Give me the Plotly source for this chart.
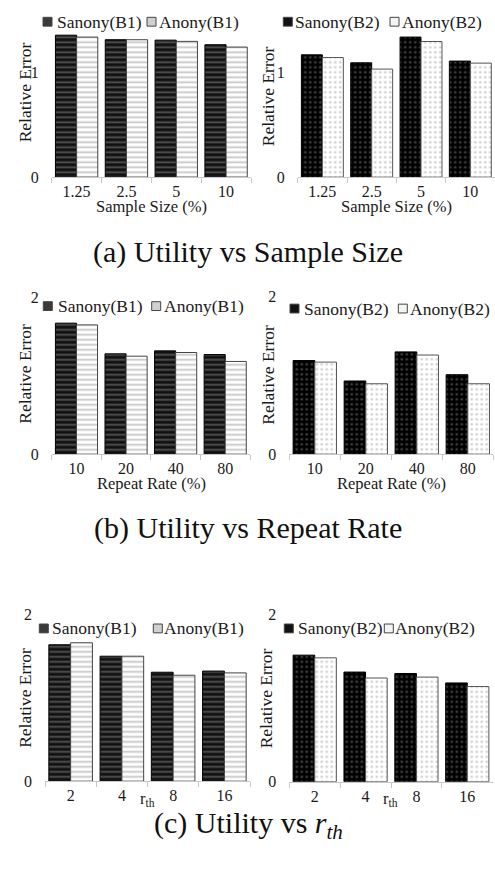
import plotly.graph_objects as go

# ---------------- data ----------------
sample_sizes = ["1.25", "2.5", "5", "10"]
repeat_rates = ["10", "20", "40", "80"]
r_th_values = ["2", "4", "8", "16"]

a_sanony_b1 = [1.353, 1.31, 1.306, 1.262]
a_anony_b1 = [1.335, 1.31, 1.294, 1.24]
a_sanony_b2 = [1.166, 1.09, 1.335, 1.106]
a_anony_b2 = [1.14, 1.03, 1.293, 1.087]

b_sanony_b1 = [1.67, 1.279, 1.317, 1.27]
b_anony_b1 = [1.648, 1.249, 1.296, 1.182]
b_sanony_b2 = [1.19, 0.93, 1.30, 1.01]
b_anony_b2 = [1.17, 0.895, 1.26, 0.895]

c_sanony_b1 = [1.635, 1.498, 1.306, 1.32]
c_anony_b1 = [1.659, 1.498, 1.27, 1.298]
c_sanony_b2 = [1.512, 1.31, 1.293, 1.18]
c_anony_b2 = [1.48, 1.239, 1.25, 1.137]

captions = ["(a) Utility vs Sample Size", "(b) Utility vs Repeat Rate",
            "(c) Utility vs <i>r</i><sub><i>th</i></sub>"]
x_titles = ["Sample Size (%)", "Repeat Rate (%)", "r<sub>th</sub>"]

# ---------------- geometry helpers ----------------
W, H = 495, 877
def px(x):
    return x / W
def py(y):
    return 1 - y / H

SERIF = "Liberation Serif, Times New Roman, serif"
TXT = "#1a1a1a"

styles = {
    "Sanony(B1)": dict(shape="-", bgcolor="#111111", fgcolor="#9a9a9a", size=5, solidity=0.35),
    "Anony(B1)": dict(shape="-", bgcolor="#ffffff", fgcolor="#8a8a8a", size=5, solidity=0.35),
    "Sanony(B2)": dict(shape=".", bgcolor="#000000", fgcolor="#8a8a8a", size=5, solidity=0.2),
    "Anony(B2)": dict(shape=".", bgcolor="#ffffff", fgcolor="#9a9a9a", size=5, solidity=0.2),
}
outline = {"Sanony(B1)": "#000000", "Anony(B1)": "#444444",
           "Sanony(B2)": "#000000", "Anony(B2)": "#555555"}
swatch_fill = {"Sanony(B1)": "#3a3a3a", "Anony(B1)": "#d0d0d0",
               "Sanony(B2)": "#111111", "Anony(B2)": "#f4f4f4"}

# panel specs: (categories, s values, a values, names, x-domain px, y top px, y zero px, ymax, dtick)
panels = [
    (sample_sizes, a_sanony_b1, a_anony_b1, ("Sanony(B1)", "Anony(B1)"), (51.7, 251), 12.0, 172.5, 1.5, 1),
    (sample_sizes, a_sanony_b2, a_anony_b2, ("Sanony(B2)", "Anony(B2)"), (297.7, 495), 12.0, 172.5, 1.5, 1),
    (repeat_rates, b_sanony_b1, b_anony_b1, ("Sanony(B1)", "Anony(B1)"), (51.7, 250), 295.0, 455.0, 2, 2),
    (repeat_rates, b_sanony_b2, b_anony_b2, ("Sanony(B2)", "Anony(B2)"), (289.3, 493.3), 294.5, 455.0, 2, 2),
    (r_th_values, c_sanony_b1, c_anony_b1, ("Sanony(B1)", "Anony(B1)"), (45, 250), 618.3, 788.5, 2, 2),
    (r_th_values, c_sanony_b2, c_anony_b2, ("Sanony(B2)", "Anony(B2)"), (289.3, 492.7), 618.3, 789.0, 2, 2),
]

fig = go.Figure()
layout = dict(
    width=W, height=H, margin=dict(l=0, r=0, t=0, b=0),
    paper_bgcolor="white", plot_bgcolor="white",
    showlegend=False, barmode="group", bargap=0.15, bargroupgap=0,
    font=dict(family=SERIF, size=16, color=TXT),
)

for i, (cats, s_vals, a_vals, names, xd, ytop, yzero, ymax, dt) in enumerate(panels):
    n = "" if i == 0 else str(i + 1)
    for name, vals in zip(names, (s_vals, a_vals)):
        fig.add_trace(go.Bar(
            x=cats, y=vals, name=name, xaxis="x" + n, yaxis="y" + n,
            marker=dict(color=styles[name]["bgcolor"], pattern=styles[name],
                        line=dict(color=outline[name], width=1)),
        ))
    layout["xaxis" + n] = dict(
        domain=[px(xd[0]), px(xd[1])], anchor="y" + n, type="category",
        showline=True, linecolor="#c8c8c8", linewidth=1,
        ticks="outside", ticklen=5, tickcolor="#c8c8c8", tickson="boundaries",
        showgrid=False, zeroline=False,
        tickfont=dict(family=SERIF, size=16, color=TXT),
    )
    layout["yaxis" + n] = dict(
        domain=[py(yzero), py(ytop)], anchor="x" + n,
        range=[0, ymax], dtick=dt, tick0=0,
        showline=False, showgrid=False, zeroline=False, ticks="",
        ticklabelstandoff=12,
        tickfont=dict(family=SERIF, size=16, color=TXT),
    )

fig.update_layout(**layout)

annotations = []
shapes = []

# y-axis titles
ytitle_pos = [(25, 86), (268, 90), (25, 373), (268, 374), (25, 703.5), (266, 704)]
for x, y in ytitle_pos:
    annotations.append(dict(text="Relative Error", x=px(x), y=py(y), xref="paper", yref="paper",
                            textangle=-90, showarrow=False, xanchor="center", yanchor="middle",
                            font=dict(family=SERIF, size=17.5, color=TXT)))

# x-axis titles
xtitle_pos = [(151.7, 202, 0), (396.7, 202, 0), (151.7, 484.5, 1), (391.7, 484.5, 1),
              (147.5, 807, 2), (390.8, 807, 2)]
for x, y, k in xtitle_pos:
    annotations.append(dict(text=x_titles[k], x=px(x), y=py(y), xref="paper", yref="paper",
                            showarrow=False, xanchor="center", yanchor="middle",
                            font=dict(family=SERIF, size=16.5, color=TXT)))

# captions
cap_pos = [249, 530, 833]
for cap, y in zip(captions, cap_pos):
    annotations.append(dict(text=cap, x=px(248), y=py(y), xref="paper", yref="paper",
                            showarrow=False, xanchor="center", yanchor="middle",
                            font=dict(family=SERIF, size=30, color="#111111")))

# legends: (swatch x, text x) pairs per panel, and y centre
legend_pos = [
    ((43, 55), (147, 157), 14),
    ((283.3, 293.3), (390, 400), 14),
    ((43.3, 56), (151.7, 161.7), 304),
    ((290, 301.7), (398.3, 408.3), 306.5),
    ((39.3, 50), (153.3, 162.3), 632.7),
    ((284.3, 295.7), (384.3, 393.3), 632.7),
]
for (p, (it1, it2, yc)) in zip(panels, legend_pos):
    for name, (sx, tx) in zip(p[3], (it1, it2)):
        shapes.append(dict(type="rect", xref="paper", yref="paper",
                           x0=px(sx), x1=px(sx + 9), y0=py(yc + 4.5), y1=py(yc - 4.5),
                           fillcolor=swatch_fill[name], line=dict(color="#444444", width=1)))
        annotations.append(dict(text=name, x=px(tx), y=py(yc), xref="paper", yref="paper",
                                showarrow=False, xanchor="left", yanchor="middle",
                                font=dict(family=SERIF, size=17.5, color=TXT)))

fig.update_layout(annotations=annotations, shapes=shapes)
fig.write_html("out.html", config={"displayModeBar": False},
               post_script="document.body.style.margin='0';document.body.style.overflow='hidden';")
